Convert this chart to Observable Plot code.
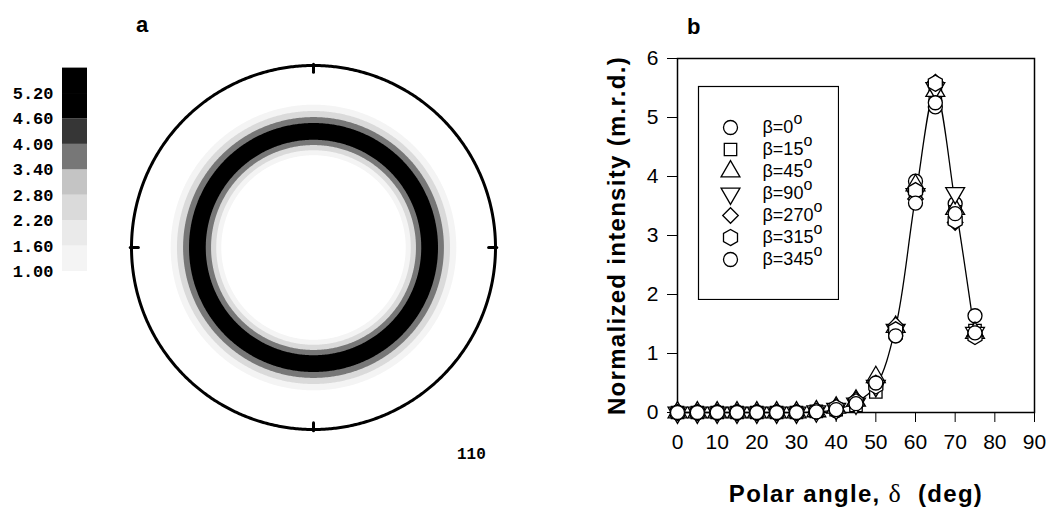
<!DOCTYPE html>
<html><head><meta charset="utf-8">
<script src="https://cdn.jsdelivr.net/npm/d3@7"></script>
<script src="https://cdn.jsdelivr.net/npm/@observablehq/plot@0.6"></script>
<style>
body{margin:0;background:#fff;}
#root{position:relative;width:1046px;height:507px;overflow:hidden;background:#fff;font-family:'Liberation Sans',Arial,sans-serif;}
#root > svg, #root > div{position:absolute;}
.panel{font-weight:bold;font-size:22px;line-height:22px;}
.pfl{font-family:'Liberation Mono',monospace;font-weight:bold;font-size:16px;line-height:16px;}
</style></head><body><div id="root"></div>
<script>
// ---- data: right panel (normalized intensity vs polar angle) ----
const delta   = [0,5,10,15,20,25,30,35,40,45,50,55,60,65,70,75];
const beta0   = [0,0,0,0,0,0,0,0.01,0.03,0.14,0.47,1.30,3.92,5.18,3.54,1.64];
const beta15  = [0,0,0,0,0,0,0,0.02,0.05,0.12,0.35,1.35,3.75,5.40,3.40,1.39];
const beta45  = [0,0,0,0,0,0,0,0.02,0.08,0.20,0.60,1.45,3.85,5.45,3.45,1.35];
const beta90  = [0,0,0,0,0,0,0,0.02,0.06,0.15,0.45,1.40,3.70,5.50,3.72,1.35];
const beta270 = [0,0,0,0,0,0,0,0.02,0.10,0.22,0.50,1.48,3.62,5.60,3.22,1.30];
const beta315 = [0,0,0,0,0,0,0,0.02,0.08,0.18,0.45,1.40,3.76,5.58,3.25,1.29];
const beta345 = [0,0,0,0,0,0,0,0.01,0.05,0.15,0.50,1.30,3.55,5.25,3.37,1.35];
const betaLabels = ["0","15","45","90","270","315","345"];
// fitted curve
const fitDelta = [0,5,10,15,20,25,30,35,40,45,50,55,60,65,70,75];
const fitValue = [0,0,0,0,0,0,0,0.01,0.05,0.17,0.45,1.45,3.65,5.45,3.55,1.30];
const xTicks = [0,10,20,30,40,50,60,70,80,90];
const yTicks = [0,1,2,3,4,5,6];

// ---- data: left panel (110 pole figure), radial profile ----
const poleDelta     = [50,52.5,55,57.5,60,62.5,65,67.5,70,72.5,75,77.5,80];
const poleIntensity = [0.5,0.8,1.2,2.3,3.6,5.3,5.6,5.3,3.7,2.5,1.4,0.9,0.6];
const levelLow  = [1.00,1.60,2.20,2.80,3.40,4.00,4.60,5.20];
const levelHigh = [1.60,2.20,2.80,3.40,4.00,4.60,5.20,5.80];
const levelLabels = ["1.00","1.60","2.20","2.80","3.40","4.00","4.60","5.20"];
const greys = ["#ffffff","#f4f4f4","#eaeaea","#dadada","#c4c4c4","#777777","#363636","#000000","#000000"];

const root = document.getElementById("root");
const sans = "'Liberation Sans', Arial, sans-serif";
const colorScale = {type:"threshold", domain: levelLow, range: greys};

// custom down-pointing triangle
const triangleDown = {draw(ctx, size){
  const y = -Math.sqrt(size / (Math.sqrt(3) * 3));
  ctx.moveTo(0, -y * 2); ctx.lineTo(-Math.sqrt(3) * y, y); ctx.lineTo(Math.sqrt(3) * y, y); ctx.closePath();
}};
const seriesValues = [beta0, beta15, beta45, beta90, beta270, beta315, beta345];
const seriesSymbols = ["circle","square","triangle",triangleDown,"diamond2","hexagon","circle"];

// ---- colour bar ----
const bar = Plot.plot({
  width: 100, height: 240, marginLeft: 62, marginRight: 13, marginTop: 17.6, marginBottom: 19,
  x: {domain:[0,1], axis:null},
  y: {domain:[1.0,5.8], label:null, axis:null},
  color: colorScale,
  style: {fontFamily:"'Liberation Mono', monospace", fontSize:"17px", fontWeight:"bold", background:"transparent", color:"black"},
  marks: [
    Plot.rect(levelLow.map((v,i)=>({lo:v, hi:levelHigh[i]})), {x1:0, x2:1, y1:"lo", y2:"hi", fill:"lo"}),
    Plot.axisY({ticks: levelLow, tickSize:0, tickPadding:9, tickFormat:d=>levelLabels[levelLow.indexOf(d)], label:null})
  ]
});
bar.style.left = "0px"; bar.style.top = "50px";
root.appendChild(bar);

// ---- pole figure ----
const poleRings = poleDelta.map((d,i)=>({
  geometry: d3.geoCircle().center([0,90]).radius(d + 1.25).precision(0.5)(),
  value: poleIntensity[i]
})).reverse();
const outline = d3.geoCircle().center([0,90]).radius(90).precision(0.5)();
const tickLines = [0,90,180,270].map(lon=>({type:"LineString", coordinates:[[lon,-0.4],[lon,2.2]]}));
const pole = Plot.plot({
  width: 400, height: 400, margin: 0,
  projection: {type:"stereographic", rotate:[0,-90], domain: outline, inset: 18},
  color: colorScale,
  style: {background:"transparent"},
  marks: [
    Plot.geo(poleRings, {geometry: d=>d.geometry, fill: d=>d.value, stroke:"none"}),
    Plot.geo([outline], {stroke:"black", strokeWidth:3, fill:"none"}),
    Plot.geo(tickLines, {stroke:"black", strokeWidth:3})
  ]
});
pole.style.left = "113px"; pole.style.top = "47px";
root.appendChild(pole);

// ---- line chart ----
const fitData = fitDelta.map((x,i)=>({x, y: fitValue[i]}));
const dotMarks = seriesValues.map((vals,k)=>Plot.dot(delta.map((x,i)=>({x, y: vals[i]})), {
  x:"x", y:"y", symbol: seriesSymbols[k], r:7, fill:"white", stroke:"black", strokeWidth:1.3
}));
const chart = Plot.plot({
  width: 466, height: 507,
  marginLeft: 97, marginRight: 12, marginTop: 58, marginBottom: 95,
  x: {domain:[0,90], label:null},
  y: {domain:[0,6], label:null},
  style: {fontFamily: sans, fontSize:"21px", background:"transparent", color:"black"},
  marks: [
    Plot.frame({stroke:"black", strokeWidth:1.5}),
    Plot.axisX({ticks: xTicks, tickSize:10, tickPadding:12, tickFormat:"d", label:null}),
    Plot.axisY({ticks: yTicks, tickSize:10, tickPadding:9, tickFormat:"d", label:null}),
    Plot.line(fitData, {x:"x", y:"y", curve:"catmull-rom", stroke:"black", strokeWidth:1.3}),
    ...dotMarks,
    Plot.text(["Normalized intensity (m.r.d.)"], {frameAnchor:"left", textAnchor:"middle", dx:-60, rotate:-90, fontWeight:"bold", fontSize:24}),
    Plot.text(["Polar angle, δ  (deg)"], {frameAnchor:"bottom", textAnchor:"middle", dy:89, fontWeight:"bold", fontSize:24})
  ]
});
chart.style.left = "580px"; chart.style.top = "0px";
root.appendChild(chart);
// style the axis labels: spacing, serif delta
d3.select(chart).selectAll("text").each(function(){
  const t = this.textContent;
  if (t.startsWith("Normalized")) { this.setAttribute("letter-spacing","1.3"); }
  if (t.startsWith("Polar")) {
    this.setAttribute("letter-spacing","1.3");
    const s = d3.select(this); s.text(null);
    s.append("tspan").text("Polar angle, ");
    s.append("tspan").attr("font-family","'Liberation Serif', serif").attr("font-weight","normal").attr("font-size","26").text("δ");
    s.append("tspan").text("\u00a0\u00a0(deg)");
  }
});

// ---- symbol legend ----
const legend = Plot.plot({
  width: 142, height: 215, margin: 1,
  x: {domain:[0,140], axis:null},
  y: {type:"point", domain: betaLabels, range:[28,187], axis:null},
  style: {fontFamily: sans, fontSize:"18px", background:"white", color:"black"},
  marks: [
    Plot.frame({stroke:"black", strokeWidth:1.2, fill:"white"}),
    ...betaLabels.map((b,k)=>Plot.dot([b], {x:()=>32, y:d=>d, symbol: seriesSymbols[k], r:7, fill:"white", stroke:"black", strokeWidth:1.3})),
    Plot.text(betaLabels, {x:()=>64, y:d=>d, text:d=>"β="+d, textAnchor:"start"})
  ]
});
legend.style.left = "697px"; legend.style.top = "85px";
root.appendChild(legend);
d3.select(legend).selectAll("text").each(function(){
  if (this.textContent.startsWith("β=")) {
    d3.select(this).append("tspan").attr("dy","-0.55em").attr("font-size","16").text("o");
  }
});

// ---- panel letters and pole label ----
function addDiv(cls, text, left, top){
  const d = document.createElement("div"); d.className = cls; d.textContent = text;
  d.style.left = left + "px"; d.style.top = top + "px"; root.appendChild(d);
}
addDiv("panel","a",136,14);
addDiv("panel","b",687,16);
addDiv("pfl","110",457,447);
</script>
</body></html>
